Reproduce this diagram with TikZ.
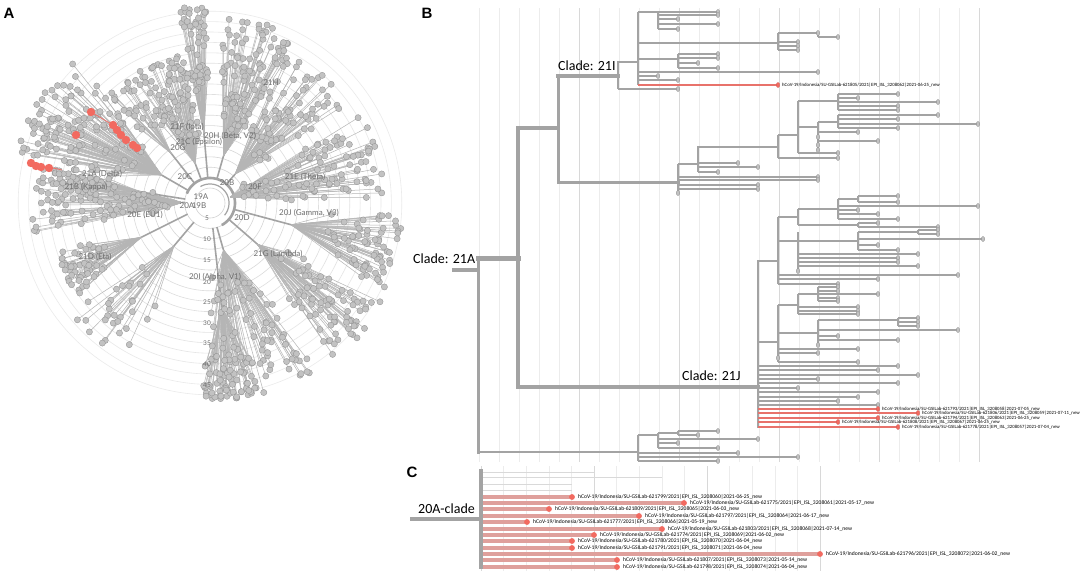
\documentclass[tikz,border=0pt]{standalone}
\usepackage{fontspec}
\setmainfont{Carlito}
\newfontfamily\latofont{Lato}
\newfontfamily\arialfont{Liberation Sans}
\usetikzlibrary{positioning}

\definecolor{treegray}{HTML}{A3A3A3}
\definecolor{dotfill}{HTML}{C2C2C2}
\definecolor{dotline}{HTML}{939393}
\definecolor{gridline}{HTML}{ECECEC}
\definecolor{gridmajor}{HTML}{D8D8D8}
\definecolor{seqred}{HTML}{E8726B}
\definecolor{seqdot}{HTML}{F26A60}
\definecolor{seqpink}{HTML}{DFA09C}
\definecolor{labelgray}{HTML}{6E6E6E}

\tikzset{
  twig/.style={draw=treegray, line width=1.3pt},
  trunk/.style={draw=treegray, line width=3.4pt, line cap=rect},
  tipdot/.style={fill=dotfill, draw=dotline, line width=0.4pt},
  redtwig/.style={draw=seqred, line width=1.1pt},
  reddot/.style={fill=seqdot, draw=seqdot!85!black, line width=0.3pt},
  seqlabel/.style={anchor=west, inner sep=0pt, font=\fontsize{4.8}{5}\selectfont},
  seqlabelC/.style={anchor=west, inner sep=0pt, font=\fontsize{5.6}{6}\selectfont},
  cladelabel/.style={anchor=base west, inner sep=0pt, font=\fontsize{14}{16}\selectfont},
  panelletter/.style={inner sep=0pt, font=\arialfont\bfseries\fontsize{15}{17}\selectfont},
  radlabel/.style={inner sep=0pt, text=labelgray, font=\latofont\fontsize{8}{9}\selectfont},
  ticklabel/.style={inner sep=0pt, text=labelgray, font=\latofont\fontsize{6.5}{7}\selectfont},
  twigA/.style={draw=treegray!80, line width=0.5pt},
  dotA/.style={fill=dotfill, draw=dotline, line width=0.35pt},
  pinkbranch/.style={draw=seqpink, line width=3.2pt},
  faintbranch/.style={draw=gray!30, line width=0.8pt}
}

% tree helpers
\newcommand{\tip}[3]{\draw[twig] (#1,#3) -- (#2,#3); \filldraw[tipdot] (#2,#3) ellipse (1.7 and 2.5);}
\newcommand{\fork}[3]{\draw[twig] (#1,#2) -- (#1,#3);}
\newcommand{\stem}[3]{\draw[twig] (#1,#3) -- (#2,#3);}
\newcommand{\redtip}[4]{\draw[redtwig] (#1,#3) -- (#2,#3); \filldraw[reddot] (#2,#3) ellipse (1.7 and 2.5); \node[seqlabel] at (#2+4,#3) {#4};}
\newcommand{\seqC}[3]{\draw[pinkbranch] (481,#2) -- (#1,#2); \fill[seqdot] (#1,#2) circle (2.9); \node[seqlabelC] at (#1+6,#2) {#3};}
\newcommand{\cladesA}{91/99/100/197/50, 99/122/60/150/85, 122/134/90/150/25, 62/86/70/188/100, 36/62/55/170/75, 2/30/30/175/95, -26/-4/120/195/75, -52/-30/90/200/75, -90/-58/70/197/95, -92/-75/150/197/60, -142/-118/80/178/30, -162/-145/110/162/55, 168/190/40/178/110, 134/166/80/200/120, 166/176/100/160/28}

\begin{document}
\begin{tikzpicture}[x=1pt,y=-1pt]
\useasboundingbox (0,0) rectangle (1084,579);
\fill[white] (0,0) rectangle (1084,579);

% panel letters
\node[panelletter] (letterA) at (9,13) {A};
\node[panelletter] (letterB) at (427,13) {B};
\node[panelletter] (letterC) at (412,472) {C};

% ---- panel A: radial tree
\foreach \k in {0,...,17}{
  \pgfmathsetmacro\ringshade{18-0.6*\k}
  \draw[draw=black!\ringshade, line width=0.6pt] (210,203) circle ({15+10.4*\k});
}
% hub
\draw[draw=treegray, line width=2.6pt] plot[domain=-62:158, samples=50] ({210+25*cos(\x)},{203-25*sin(\x)});
\draw[draw=treegray, line width=1.2pt] plot[domain=-40:120, samples=40] ({210+19*cos(\x)},{203-19*sin(\x)});
% branches
\pgfmathsetseed{7}
\foreach \amin/\amax/\rmin/\rmax/\n in \cladesA {
  \pgfmathsetmacro\amid{(\amin+\amax)/2}
  \draw[draw=treegray, line width=1.6pt] ({210+25*cos(\amid)},{203-25*sin(\amid)}) -- ({210+0.7*\rmin*cos(\amid)},{203-0.7*\rmin*sin(\amid)});
  \foreach \k in {1,...,\n}{
    \pgfmathsetmacro\tipang{\amin+rnd*(\amax-\amin)}
    \pgfmathsetmacro\tiprad{\rmin+(rnd^0.7)*(\rmax-\rmin)}
    \draw[twigA] ({210+0.7*\rmin*cos(\amid)},{203-0.7*\rmin*sin(\amid)}) -- ({210+\tiprad*cos(\tipang)},{203-\tiprad*sin(\tipang)});
  }
}
% tips
\pgfmathsetseed{7}
\foreach \amin/\amax/\rmin/\rmax/\n in \cladesA {
  \foreach \k in {1,...,\n}{
    \pgfmathsetmacro\tipang{\amin+rnd*(\amax-\amin)}
    \pgfmathsetmacro\tiprad{\rmin+(rnd^0.7)*(\rmax-\rmin)}
    \filldraw[dotA] ({210+\tiprad*cos(\tipang)},{203-\tiprad*sin(\tipang)}) circle (3.1);
  }
}
% Indonesian sequences
\draw[draw=seqred, line width=0.8pt] (91,112) -- (113,125);
\draw[draw=seqred, line width=0.8pt] (31,163) -- (62,170);
\foreach \sx/\sy in {91/112, 76/135, 113/125, 117/130, 121/135, 126/140, 133/145, 137/148, 31/163, 36/166, 41/167, 49/168}
  \fill[seqdot] (\sx,\sy) circle (4.2);
% clade names
\node[radlabel] (cl21H) at (271,83) {21H};
\node[radlabel] (cl21F) at (187,127) {21F (Iota)};
\node[radlabel] (cl20H) at (230,136) {20H (Beta, V2)};
\node[radlabel] (cl21C) at (199,142) {21C (Epsilon)};
\node[radlabel] (cl20G) at (178,148) {20G};
\node[radlabel] (cl21A) at (102,174) {21A (Delta)};
\node[radlabel] (cl21B) at (86,187) {21B (Kappa)};
\node[radlabel] (cl20C) at (185,177) {20C};
\node[radlabel] (cl20B) at (227,183) {20B};
\node[radlabel] (cl20F) at (255,187) {20F};
\node[radlabel] (cl21E) at (305,177) {21E (Theta)};
\node[radlabel] (cl19A) at (201,197) {19A};
\node[radlabel] (cl20A) at (187,206) {20A};
\node[radlabel] (cl19B) at (199,206) {19B};
\node[radlabel] (cl20E) at (145,215) {20E (EU1)};
\node[radlabel] (cl20J) at (309,213) {20J (Gamma, V3)};
\node[radlabel] (cl20D) at (242,218) {20D};
\node[radlabel] (cl21D) at (95,257) {21D (Eta)};
\node[radlabel] (cl21G) at (278,254) {21G (Lambda)};
\node[radlabel] (cl20I) at (215,277) {20I (Alpha, V1)};
% divergence ticks
\foreach \t/\ty in {5/218, 10/239, 15/260, 20/282, 25/302, 30/323, 35/343, 40/364, 45/385}
  \node[ticklabel] (tick\t) at (207,\ty) {\t};

% ---- panel B: clade 21A
\foreach \gx in {479,499,...,979}
  \draw[draw=gridline, line width=0.6pt] (\gx,8) -- (\gx,462);
\foreach \gx in {579,679,...,979}
  \draw[draw=gridmajor, line width=0.6pt] (\gx,8) -- (\gx,462);
% backbone
\draw[trunk, line width=4pt] (454,270) -- (478,270);
\draw[trunk, line width=3pt] (478,258) -- (478,452);
\draw[trunk, line width=5pt] (478,258) -- (518,258);
\draw[trunk] (518,128) -- (518,387);
\draw[trunk] (518,128) -- (558,128);
\draw[trunk, line width=3pt] (558,76) -- (558,182);
\draw[trunk] (558,76) -- (618,76);
\draw[trunk, line width=3pt] (558,182) -- (678,182);
\draw[trunk] (518,387) -- (758,387);
\draw[trunk, line width=2.4pt] (478,452) -- (638,452);
\node[cladelabel] (lab21A) at (413,263) {Clade: 21A};
\node[cladelabel] (lab21I) at (558,70) {Clade: 21I};
\node[cladelabel] (lab21J) at (682,380) {Clade: 21J};
% clade 21I
\fork{618}{62}{89}
\draw[trunk, line width=2.4pt] (618,62) -- (638,62);
\fork{638}{12}{85}
\stem{638}{658}{12} \fork{658}{12}{29}
\tip{658}{718}{12} \tip{658}{718}{15} \tip{658}{678}{19} \tip{658}{718}{24} \tip{658}{678}{29}
\stem{638}{778}{43} \fork{778}{33}{50} \fork{818}{33}{37}
\tip{778}{818}{33} \tip{818}{838}{37} \tip{778}{798}{42} \tip{778}{798}{46} \tip{778}{798}{50}
\stem{638}{678}{59} \fork{678}{54}{68}
\tip{678}{718}{54} \tip{678}{718}{58} \tip{678}{698}{63} \tip{678}{718}{68}
\tip{638}{818}{72}
\tip{638}{658}{76}
\tip{638}{678}{80}
\redtip{638}{778}{85}{hCoV-19/Indonesia/SU-GSILab-621805/2021|EPI\_ISL\_3208062|2021-06-25\_new}
\tip{618}{678}{89}
% middle clade
\fork{678}{164}{193}
\stem{678}{698}{164} \fork{698}{147}{172}
\draw[trunk, line width=2.4pt] (698,147) -- (778,147);
\fork{778}{135}{158}
\stem{778}{798}{135} \fork{798}{101}{153}
\stem{798}{838}{101} \fork{838}{94}{110}
\tip{838}{898}{94} \tip{838}{858}{98} \tip{838}{938}{102} \tip{838}{898}{106} \tip{838}{898}{110}
\stem{798}{818}{127} \fork{818}{122}{150}
\stem{818}{838}{122} \fork{838}{115}{128}
\tip{838}{938}{115} \tip{838}{898}{119} \tip{838}{978}{124} \tip{838}{898}{128}
\tip{818}{858}{132} \tip{818}{818}{137} \tip{818}{878}{141} \tip{818}{818}{145} \tip{818}{818}{150}
\tip{798}{838}{153}
\tip{778}{838}{158}
\tip{698}{738}{163} \tip{698}{758}{167} \tip{698}{718}{172}
\tip{678}{818}{177} \tip{678}{818}{180} \tip{678}{758}{185} \tip{678}{758}{189} \tip{678}{678}{193}
% clade 21J
\draw[trunk, line width=2.6pt] (758,261) -- (758,427);
\draw[trunk, line width=2.6pt] (758,261) -- (778,261);
\fork{778}{217}{284}
\stem{778}{798}{217} \fork{798}{209}{225}
\stem{798}{838}{209} \fork{838}{199}{219}
\stem{838}{858}{199} \fork{858}{196}{202}
\tip{858}{898}{196} \tip{858}{898}{202}
\tip{838}{978}{206} \tip{838}{858}{210} \tip{838}{878}{214} \tip{838}{898}{219}
\stem{798}{858}{225} \fork{858}{223}{227}
\tip{858}{878}{223} \tip{858}{938}{227}
\stem{778}{798}{241} \fork{798}{232}{271}
\stem{798}{858}{241} \fork{858}{232}{250}
\stem{858}{918}{232} \fork{918}{230}{234}
\tip{918}{938}{230} \tip{918}{938}{234}
\tip{858}{983}{239} \tip{858}{878}{245} \tip{858}{898}{250}
\tip{798}{918}{254} \tip{798}{898}{258} \tip{798}{898}{262} \tip{798}{918}{266} \tip{798}{798}{271}
\tip{778}{958}{275} \tip{778}{878}{279} \tip{778}{838}{284}
\draw[trunk, line width=2.6pt] (758,342) -- (778,342);
\fork{778}{305}{362}
\stem{778}{798}{305} \fork{798}{294}{314}
\stem{798}{818}{294} \fork{818}{287}{301}
\tip{818}{838}{287} \tip{818}{838}{291} \tip{818}{878}{294} \tip{818}{838}{298} \tip{818}{838}{301}
\tip{798}{858}{307} \tip{798}{858}{311} \tip{798}{858}{314}
\stem{778}{818}{333} \fork{818}{320}{345}
\stem{818}{898}{320} \fork{898}{318}{326}
\tip{898}{918}{318} \tip{898}{918}{322} \tip{898}{918}{326}
\tip{818}{958}{330} \tip{818}{838}{336} \tip{818}{898}{340} \tip{818}{818}{345}
\tip{778}{858}{349} \tip{778}{818}{353} \tip{778}{778}{358} \tip{778}{858}{362}
\tip{758}{898}{366} \tip{758}{878}{370}
\tip{758}{918}{375} \tip{758}{818}{379}
\tip{758}{898}{383}
\tip{758}{798}{388}
\tip{758}{878}{392} \tip{758}{858}{397} \tip{758}{838}{401} \tip{758}{878}{405}
\redtip{758}{878}{409}{hCoV-19/Indonesia/SU-GSILab-621793/2021|EPI\_ISL\_3208058|2021-07-05\_new}
\redtip{758}{918}{413}{hCoV-19/Indonesia/SU-GSILab-621806/2021|EPI\_ISL\_3208059|2021-07-11\_new}
\redtip{758}{878}{418}{hCoV-19/Indonesia/SU-GSILab-621794/2021|EPI\_ISL\_3208063|2021-06-25\_new}
\redtip{758}{838}{422}{hCoV-19/Indonesia/SU-GSILab-621808/2021|EPI\_ISL\_3208067|2021-06-25\_new}
\redtip{758}{898}{427}{hCoV-19/Indonesia/SU-GSILab-621778/2021|EPI\_ISL\_3208057|2021-07-04\_new}
% lower clade
\fork{638}{435}{461}
\stem{638}{658}{435} \fork{658}{433}{448}
\stem{658}{678}{433} \fork{678}{431}{435}
\tip{678}{718}{431} \tip{678}{698}{435}
\tip{658}{758}{439} \tip{658}{678}{443} \tip{658}{718}{448}
\tip{638}{738}{453} \tip{638}{798}{457} \tip{638}{718}{461}

% ---- panel C: 20A clade
\foreach \k in {0,...,15}
  \draw[draw=gridline, line width=0.6pt] ({481+22.6*\k},466) -- ({481+22.6*\k},571);
\foreach \k in {0,5,10,15}
  \draw[draw=gridmajor, line width=0.6pt] ({481+22.6*\k},466) -- ({481+22.6*\k},571);
\draw[faintbranch] (481,472) -- (594,472);
\draw[faintbranch] (481,477) -- (662,477);
\draw[faintbranch] (481,484) -- (572,484);
\draw[faintbranch] (481,490) -- (572,490);
\draw[faintbranch] (594,470) -- (594,474);
\seqC{572}{497}{hCoV-19/Indonesia/SU-GSILab-621799/2021|EPI\_ISL\_3208060|2021-06-25\_new}
\seqC{684}{503}{hCoV-19/Indonesia/SU-GSILab-621775/2021|EPI\_ISL\_3208061|2021-05-17\_new}
\seqC{549}{509}{hCoV-19/Indonesia/SU-GSILab-621809/2021|EPI\_ISL\_3208065|2021-06-03\_new}
\seqC{639}{516}{hCoV-19/Indonesia/SU-GSILab-621797/2021|EPI\_ISL\_3208064|2021-06-17\_new}
\seqC{527}{522}{hCoV-19/Indonesia/SU-GSILab-621777/2021|EPI\_ISL\_3208066|2021-05-19\_new}
\seqC{662}{529}{hCoV-19/Indonesia/SU-GSILab-621803/2021|EPI\_ISL\_3208068|2021-07-14\_new}
\seqC{594}{535}{hCoV-19/Indonesia/SU-GSILab-621774/2021|EPI\_ISL\_3208069|2021-06-02\_new}
\seqC{572}{541}{hCoV-19/Indonesia/SU-GSILab-621780/2021|EPI\_ISL\_3208070|2021-06-04\_new}
\seqC{572}{548}{hCoV-19/Indonesia/SU-GSILab-621791/2021|EPI\_ISL\_3208071|2021-06-04\_new}
\seqC{820}{554}{hCoV-19/Indonesia/SU-GSILab-621796/2021|EPI\_ISL\_3208072|2021-06-02\_new}
\seqC{617}{560}{hCoV-19/Indonesia/SU-GSILab-621807/2021|EPI\_ISL\_3208073|2021-05-14\_new}
\seqC{617}{567}{hCoV-19/Indonesia/SU-GSILab-621798/2021|EPI\_ISL\_3208074|2021-06-04\_new}
\draw[trunk, line width=3.6pt] (412,519) -- (481,519);
\draw[trunk, line width=3.8pt] (481,471) -- (481,567);
\node[cladelabel] (lab20A) at (418,513) {20A-clade};
\end{tikzpicture}
\end{document}
